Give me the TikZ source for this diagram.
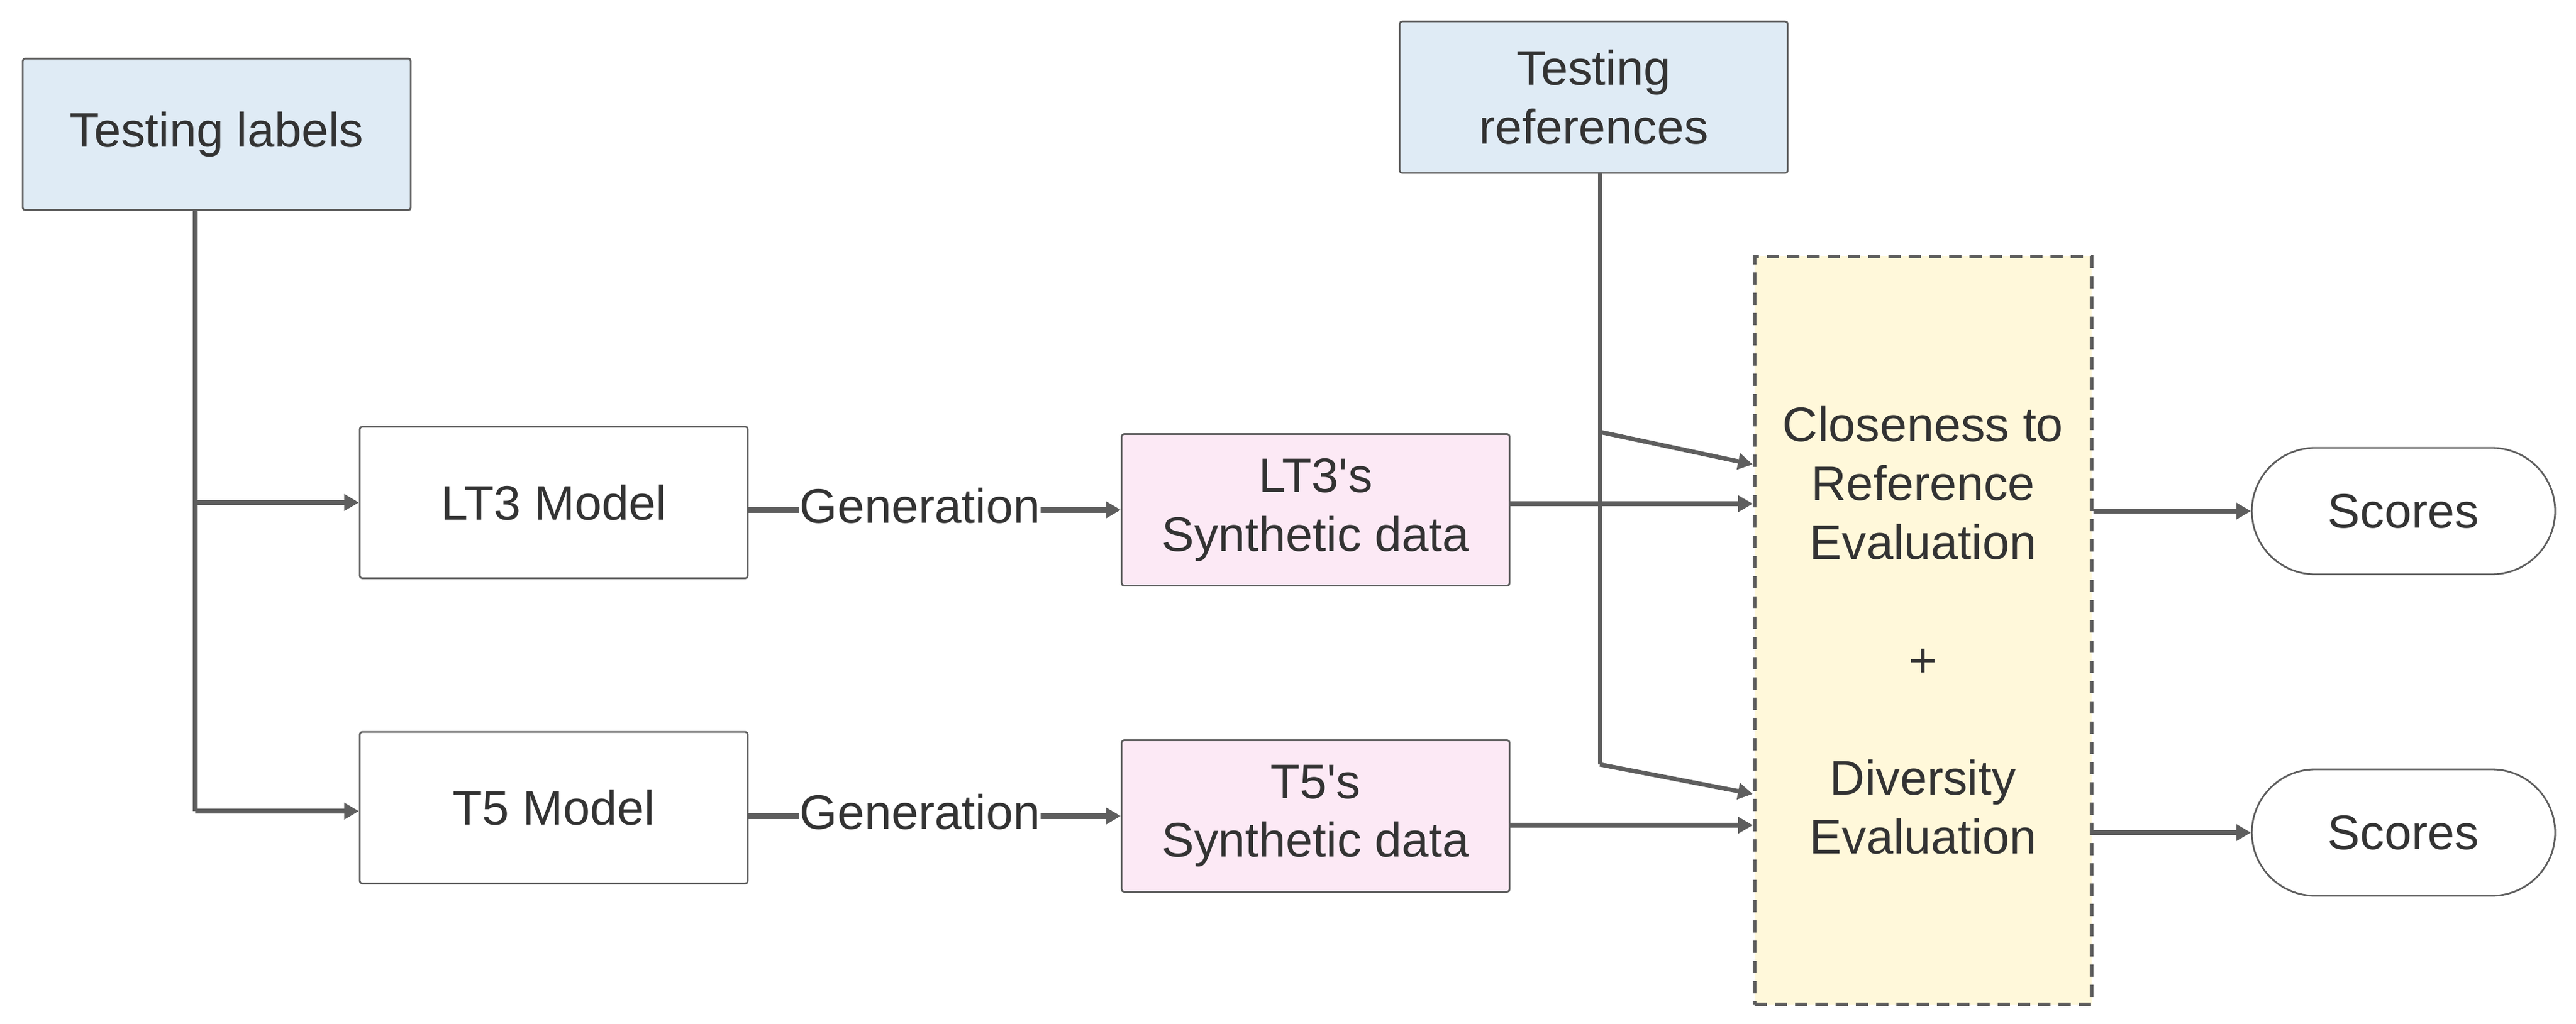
\documentclass[tikz,border=0pt]{standalone}
\usepackage{fontspec}
\setmainfont{Liberation Sans}
\usetikzlibrary{arrows.meta,positioning}
\definecolor{linegray}{HTML}{5E5E5E}
\definecolor{textgray}{HTML}{333333}
\definecolor{inblue}{HTML}{DFEBF5}
\definecolor{datapink}{HTML}{FCE9F5}
\definecolor{evalyellow}{HTML}{FFF8DA}

\begin{document}
\begin{tikzpicture}[
  txt/.style={text=textgray, font=\fontsize{22.5}{27.3}\selectfont, align=center},
  box/.style={txt, draw=linegray, line width=0.8pt, rounded corners=0.04cm, minimum width=6.32cm, minimum height=2.47cm},
  conn/.style={draw=linegray, line width=2pt},
  arr/.style={conn, -{Triangle[length=0.24cm,width=0.26cm]}},
]
\useasboundingbox (0,0) rectangle (41.96,-16.69);

\node[box, fill=inblue] (lab) at (3.53,-2.19) {Testing labels};
\node[box, fill=inblue] (ref) at (25.96,-1.585) {Testing\\references};
\node[box] (lt3) at (9.02,-8.19) {LT3 Model};
\node[box] (t5) at (9.02,-13.165) {T5 Model};
\node[box, fill=datapink] (d3) at (21.43,-8.31) {LT3\textquotesingle s\\Synthetic data};
\node[box, fill=datapink] (d5) at (21.43,-13.30) {T5\textquotesingle s\\Synthetic data};
\node[txt, inner sep=0pt] (gen3) at (14.985,-8.24) {Generation};
\node[txt, inner sep=0pt] (gen5) at (14.985,-13.23) {Generation};
\node[txt, draw=linegray, line width=1.7pt, dash pattern=on 0.2cm off 0.13cm, fill=evalyellow, minimum width=5.49cm, minimum height=12.19cm] (eval) at (31.325,-10.275)
  {Closeness to\\Reference\\Evaluation\\[0.96cm]+\\[0.96cm]Diversity\\Evaluation};
\node[txt, draw=linegray, line width=0.8pt, rounded corners=1.03cm, minimum width=4.94cm, minimum height=2.06cm] (sc1) at (39.15,-8.33) {Scores};
\node[txt, draw=linegray, line width=0.8pt, rounded corners=1.03cm, minimum width=4.94cm, minimum height=2.06cm] (sc2) at (39.15,-13.57) {Scores};

\coordinate (j1) at (3.18,-8.19);
\coordinate (j2) at (3.18,-13.22);
\coordinate (k1) at (26.06,-7.04);
\coordinate (k2) at (26.06,-12.46);

\draw[conn] (lab.south -| j1) -- (j2);
\draw[arr] (j1) -- (lt3.west);
\draw[arr] (j2) -- (j2 -| t5.west);
\draw[conn, line width=2.6pt] (lt3.east |- d3) -- (gen3.west |- d3);
\draw[arr, line width=2.6pt] (gen3.east |- d3) -- (d3.west);
\draw[conn, line width=2.6pt] (t5.east |- d5) -- (gen5.west |- d5);
\draw[arr, line width=2.6pt] (gen5.east |- d5) -- (d5.west);
\draw[conn] (ref.south -| k1) -- (k2);
\draw[arr] (k1) -- (eval.west |- 0,-7.57);
\draw[arr] (k2) -- (eval.west |- 0,-12.94);
\draw[arr] ([yshift=0.1cm]d3.east) -- ([yshift=0.1cm]d3.east -| eval.west);
\draw[arr] ([yshift=-0.15cm]d5.east) -- ([yshift=-0.15cm]d5.east -| eval.west);
\draw[arr] (eval.east |- sc1) -- (sc1.west);
\draw[arr] (eval.east |- sc2) -- (sc2.west);
\end{tikzpicture}
\end{document}
